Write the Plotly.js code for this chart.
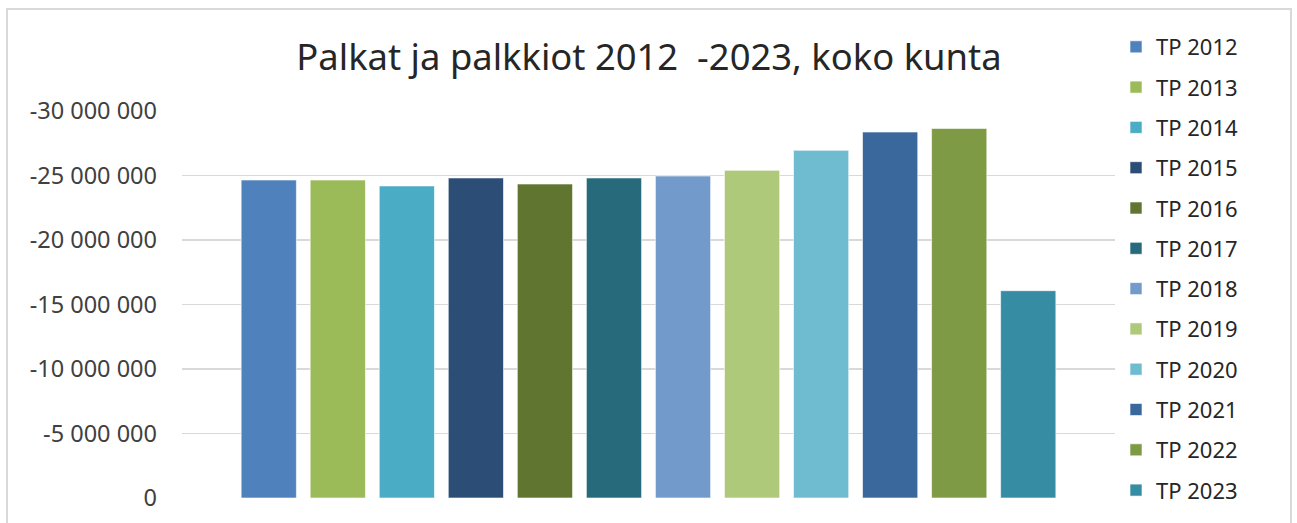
<!DOCTYPE html>
<html>
<head>
<meta charset="utf-8">
<script src="https://cdn.plot.ly/plotly-3.0.1.min.js"></script>
<style>
  html, body { margin: 0; padding: 0; background: #ffffff; }
  #wrap { position: relative; width: 1297px; height: 523px; overflow: hidden; }
  #chart { position: absolute; left: 0; top: 0; width: 1297px; height: 523px; }
  #frame { position: absolute; left: 6px; top: 8px; width: 1286px; height: 530px;
           border: 2px solid #d9d9d9; box-sizing: border-box; pointer-events: none; }
</style>
</head>
<body>
<div id="wrap">
  <div id="chart"></div>
  <div id="frame"></div>
</div>
<script>
const seriesNames = ["TP 2012","TP 2013","TP 2014","TP 2015","TP 2016","TP 2017",
                     "TP 2018","TP 2019","TP 2020","TP 2021","TP 2022","TP 2023"];
const seriesValues = [-24650000, -24650000, -24190000, -24810000, -24340000, -24810000,
                      -24960000, -25400000, -26950000, -28370000, -28650000, -16070000];
const seriesColors = ["#4F81BD","#9BBB59","#4BACC6","#2C4D75","#5F7530","#276A7C",
                      "#729ACA","#AFC97A","#6FBBD0","#3A679C","#7F9A44","#368CA3"];
const tickValues = [-30000000, -25000000, -20000000, -15000000, -10000000, -5000000, 0];
const tickLabels = ["-30 000 000","-25 000 000","-20 000 000","-15 000 000","-10 000 000","-5 000 000","0"];
const category = [""];

const FONT = "Noto Sans, Open Sans, DejaVu Sans, sans-serif";

const traces = seriesNames.map((name, i) => ({
  type: "bar",
  name: name,
  x: category,
  y: [seriesValues[i]],
  legendgroup: name,
  marker: { color: seriesColors[i], line: { color: "rgba(255,255,255,0.6)", width: 1 } },
  hoverinfo: "name+y"
}));

const layout = {
  width: 1297,
  height: 523,
  margin: { l: 182, r: 182, t: 111, b: 25, pad: 0 },
  paper_bgcolor: "rgba(0,0,0,0)",
  plot_bgcolor: "rgba(0,0,0,0)",
  barmode: "group",
  bargap: 0.112,
  bargroupgap: 0.2,
  title: {
    text: "Palkat ja palkkiot 2012  -2023, koko kunta",
    font: { family: FONT, size: 36.4, color: "#262626" },
    x: 649 / 1297, xanchor: "center", xref: "container",
    y: 1 - 57 / 523, yanchor: "middle", yref: "container"
  },
  xaxis: {
    showticklabels: false,
    ticks: "",
    showgrid: false,
    zeroline: false,
    showline: false,
    fixedrange: true
  },
  yaxis: {
    range: [0, -30000000],
    tickvals: tickValues,
    ticktext: tickLabels,
    tickfont: { family: FONT, size: 23.5, color: "#404040" },
    showgrid: true,
    gridcolor: "#d9d9d9",
    gridwidth: 1.5,
    zeroline: false,
    showline: false,
    ticks: "",
    ticklabelstandoff: 24,
    fixedrange: true
  },
  legend: {
    x: (1116 - 182) / 933,
    xanchor: "left",
    y: (498 - 26) / 387,
    yanchor: "top",
    font: { family: FONT, size: 22, color: "#262626" },
    tracegroupgap: 8.7,
    itemwidth: 30,
    maxheight: 1,
    bgcolor: "rgba(0,0,0,0)",
    traceorder: "grouped"
  },
  showlegend: true
};

Plotly.newPlot("chart", traces, layout, { displayModeBar: false, staticPlot: true });
</script>
</body>
</html>
